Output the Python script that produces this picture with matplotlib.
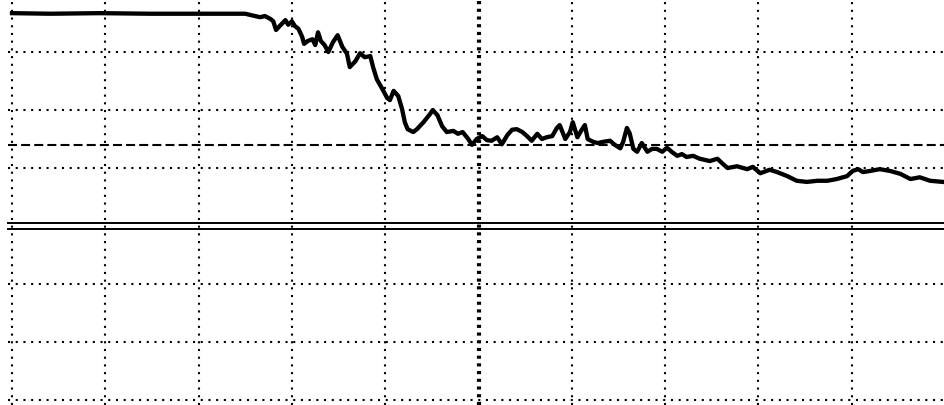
import numpy as np
import matplotlib
matplotlib.use("Agg")
import matplotlib.pyplot as plt

# trace, in divisions (x: 0..10, y: 0 = bottom graticule line)
trace_x = [0.00, 0.41, 0.94, 1.48, 2.01, 2.50, 2.55, 2.66, 2.71, 2.77, 2.80, 2.83, 2.87,
           2.93, 2.96, 3.00, 3.03, 3.07, 3.11, 3.13, 3.17, 3.22, 3.25, 3.28, 3.31, 3.35,
           3.39, 3.44, 3.49, 3.54, 3.59, 3.62, 3.68, 3.73, 3.78, 3.84, 3.87, 3.91, 3.97,
           4.02, 4.05, 4.09, 4.14, 4.18, 4.21, 4.24, 4.30, 4.34, 4.41, 4.48, 4.51, 4.56,
           4.61, 4.66, 4.73, 4.78, 4.83, 4.89, 4.93, 4.98, 5.04, 5.09, 5.14, 5.20, 5.25,
           5.31, 5.36, 5.41, 5.47, 5.52, 5.57, 5.63, 5.68, 5.73, 5.79, 5.84, 5.87, 5.93,
           5.98, 6.01, 6.06, 6.11, 6.14, 6.17, 6.23, 6.28, 6.33, 6.41, 6.46, 6.52, 6.55,
           6.59, 6.62, 6.66, 6.70, 6.75, 6.81, 6.86, 6.91, 6.97, 7.02, 7.07, 7.13, 7.18,
           7.23, 7.30, 7.37, 7.48, 7.56, 7.62, 7.67, 7.77, 7.88, 7.94, 8.02, 8.12, 8.20,
           8.31, 8.41, 8.52, 8.63, 8.74, 8.84, 8.95, 9.01, 9.07, 9.12, 9.20, 9.30, 9.41,
           9.52, 9.63, 9.73, 9.84, 9.98]
trace_y = [6.67, 6.66, 6.67, 6.66, 6.66, 6.66, 6.64, 6.60, 6.62, 6.57, 6.53, 6.38, 6.45,
           6.55, 6.47, 6.53, 6.45, 6.40, 6.26, 6.14, 6.19, 6.22, 6.12, 6.34, 6.19, 6.12,
           6.00, 6.17, 6.29, 6.09, 5.97, 5.74, 5.84, 5.98, 5.91, 5.93, 5.74, 5.53, 5.36,
           5.21, 5.17, 5.33, 5.24, 5.02, 4.79, 4.67, 4.62, 4.67, 4.79, 4.93, 5.00, 4.91,
           4.72, 4.62, 4.64, 4.59, 4.62, 4.50, 4.40, 4.50, 4.55, 4.48, 4.47, 4.53, 4.41,
           4.57, 4.66, 4.67, 4.62, 4.55, 4.47, 4.59, 4.50, 4.53, 4.55, 4.69, 4.74, 4.50,
           4.62, 4.79, 4.53, 4.67, 4.74, 4.50, 4.45, 4.43, 4.45, 4.47, 4.40, 4.34, 4.45,
           4.69, 4.60, 4.33, 4.28, 4.43, 4.28, 4.33, 4.33, 4.28, 4.35, 4.28, 4.21, 4.24,
           4.19, 4.21, 4.16, 4.12, 4.16, 4.07, 4.00, 4.03, 3.98, 4.02, 3.91, 3.97, 3.93,
           3.86, 3.78, 3.76, 3.78, 3.78, 3.81, 3.86, 3.95, 3.98, 3.93, 3.95, 3.98, 3.95,
           3.90, 3.81, 3.84, 3.78, 3.76]

grid_x = [0, 1, 2, 3, 4, 6, 7, 8, 9]
grid_y = [0, 1, 2, 4, 5, 6]
center_x = 5
center_y = 3
ref_level = 4.40

fig = plt.figure(figsize=(9.45, 4.06), dpi=100)
ax = fig.add_axes([0, 0, 1, 1])
ax.set_xlim(-0.129, 10)
ax.set_ylim(-0.086, 6.914)
ax.axis('off')

# dotted graticule
for gx in grid_x:
    ax.axvline(gx, color='black', lw=1.5, dashes=(1, 2.7), dash_capstyle='butt', zorder=1)
for gy in grid_y:
    ax.plot([-0.045, 10], [gy, gy], color='black', lw=1.5, dashes=(1, 2.7),
            dash_capstyle='butt', zorder=1)

# heavy centre vertical (big dots), double centre horizontal
ax.axvline(center_x, color='black', lw=3.0, dashes=(0.75, 1.1), dash_capstyle='butt', zorder=1)
for off in (-0.05, 0.05):
    ax.plot([-0.045, 10], [center_y + off] * 2, color='black', lw=1.4, zorder=1)

# dashed reference level
ax.plot([-0.045, 10], [ref_level] * 2, color='black', lw=1.5, dashes=(4.3, 2), zorder=1)

ax.plot(trace_x, trace_y, color='black', lw=3.1, solid_joinstyle='round', zorder=3)

fig.savefig('out.png', dpi=100)
